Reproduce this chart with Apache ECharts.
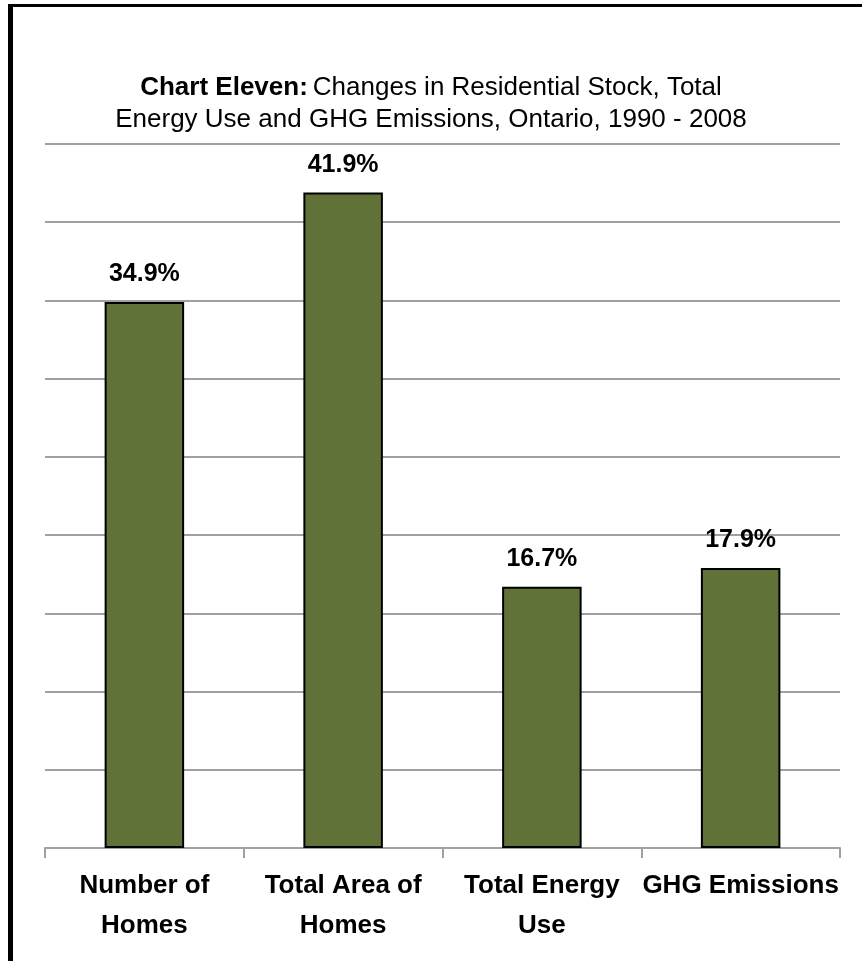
<!DOCTYPE html>
<html><head><meta charset="utf-8">
<script src="https://cdn.jsdelivr.net/npm/echarts@6/dist/echarts.min.js"></script>
<style>html,body{margin:0;padding:0;background:#fff}#c{width:862px;height:961px}</style>
</head><body><div id="c"></div>
<script>
var categories = ['Number of\nHomes', 'Total Area of\nHomes', 'Total Energy\nUse', 'GHG Emissions'];
var values = [34.9, 41.9, 16.7, 17.9];
var valueLabels = ['34.9%', '41.9%', '16.7%', '17.9%'];
var FONT = '"Liberation Sans Narrow", "Arial Narrow", "Liberation Sans", sans-serif';
var chart = echarts.init(document.getElementById('c'));
chart.setOption({
  backgroundColor: '#fff',
  animation: false,
  title: {
    text: '{b|Chart Eleven:} {n|Changes in Residential Stock, Total}\n{n|Energy Use and GHG Emissions, Ontario, 1990 - 2008}',
    left: 'center', top: 67,
    textStyle: {
      rich: {
        b: {fontFamily: FONT, fontSize: 26, fontWeight: 'bold', color: '#000', lineHeight: 32},
        n: {fontFamily: FONT, fontSize: 26, fontWeight: 'normal', color: '#000', lineHeight: 32}
      }
    }
  },
  grid: {left: 45, right: 22, top: 144, bottom: 113},
  xAxis: {
    type: 'category', data: categories,
    axisLine: {lineStyle: {color: '#a0a0a0', width: 2}},
    axisTick: {show: true, length: 10, lineStyle: {color: '#a0a0a0', width: 2}},
    axisLabel: {fontFamily: FONT, fontSize: 26, fontWeight: 'bold', color: '#000', margin: 18, lineHeight: 40, interval: 0}
  },
  yAxis: {
    type: 'value', min: 0, max: 45, interval: 5,
    axisLabel: {show: false}, axisLine: {show: false}, axisTick: {show: false},
    splitLine: {lineStyle: {color: '#a0a0a0', width: 2}}
  },
  series: [{
    type: 'bar', data: values, barWidth: '40%',
    itemStyle: {color: '#617238', borderColor: '#000', borderWidth: 2},
    label: {
      show: true, position: 'top', distance: 15,
      fontFamily: FONT, fontSize: 25, fontWeight: 'bold', color: '#000',
      formatter: function (p) { return valueLabels[p.dataIndex]; }
    }
  }],
  graphic: [
    {type: 'line', shape: {x1: 10.5, y1: 5.5, x2: 862, y2: 5.5}, style: {stroke: '#000', lineWidth: 3}},
    {type: 'line', shape: {x1: 10.5, y1: 4, x2: 10.5, y2: 961}, style: {stroke: '#000', lineWidth: 5}}
  ]
});
</script></body></html>
